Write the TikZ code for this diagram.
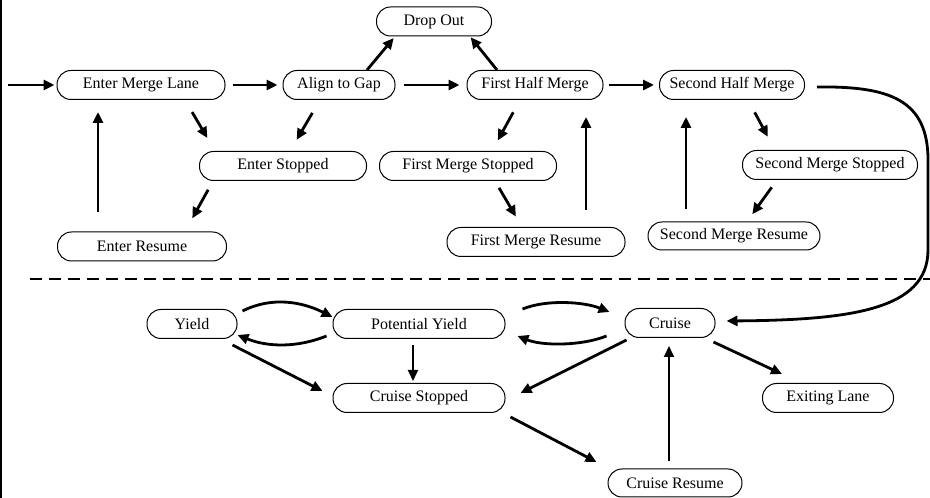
\documentclass[tikz,border=0pt]{standalone}
\usepackage{fontspec}
\setmainfont{Liberation Serif}
\usepackage{tikz}
\usetikzlibrary{positioning,calc,arrows.meta}

\begin{document}
\begin{tikzpicture}[x=1pt,y=1pt,
    state/.style={draw, line width=1pt, rounded corners=14pt, minimum height=29pt, inner sep=2pt, font=\fontsize{16}{18}\selectfont},
    flow/.style={line width=2.8pt, -{Triangle[length=11pt,width=10pt]}},
    thinflow/.style={flow, line width=1.8pt}]
    \useasboundingbox (0,0) rectangle (930,498);
    \draw[line width=2.4pt] (1,0) -- (1,498);
    \draw[line width=1.2pt, dash pattern=on 12pt off 7pt] (30,219) -- (930,219);

    \node[state, minimum width=168pt] (eml) at (141,413) {Enter Merge Lane};
    \node[state, minimum width=112pt] (atg) at (339,413) {Align to Gap};
    \node[state, minimum width=115pt] (drop) at (434,476.5) {Drop Out};
    \node[state, minimum width=136pt] (fhm) at (535,413) {First Half Merge};
    \node[state, minimum width=145pt] (shm) at (732,413) {Second Half Merge};
    \node[state, minimum width=167pt] (es) at (283,332) {Enter Stopped};
    \node[state, minimum width=177pt] (fms) at (468,332) {First Merge Stopped};
    \node[state, minimum width=175pt] (sms) at (830,333) {Second Merge Stopped};
    \node[state, minimum width=169pt] (er) at (142,251.5) {Enter Resume};
    \node[state, minimum width=178pt] (fmr) at (536,256) {First Merge Resume};
    \node[state, minimum width=172pt, minimum height=28pt] (smr) at (734,262) {Second Merge Resume};
    \node[state, minimum width=90pt] (yield) at (192,174) {Yield};
    \node[state, minimum width=172pt] (py) at (419,174) {Potential Yield};
    \node[state, minimum width=90pt] (cruise) at (670,175) {Cruise};
    \node[state, minimum width=172pt] (cs) at (419,100) {Cruise Stopped};
    \node[state, minimum width=131pt] (exit) at (828,100) {Exiting Lane};
    \node[state, minimum width=134pt, minimum height=28pt] (cr) at (675,15) {Cruise Resume};
    \coordinate (entry) at (8,413);

    \draw[flow, shorten >=2pt] (entry) -- (eml);
    \draw[flow, shorten <=7pt, shorten >=5pt] (eml) -- (atg);
    \draw[flow, shorten >=2pt] ([xshift=28pt]atg.north) -- ([xshift=-39pt]drop.south);
    \draw[flow, shorten <=8pt, shorten >=7pt] (atg) -- (fhm);
    \draw[flow, shorten >=1pt] ([xshift=-38pt]fhm.north) -- ([xshift=36pt]drop.south);
    \draw[flow, shorten <=5pt, shorten >=5pt] (fhm) -- (shm);
    \draw[flow, shorten <=14pt, shorten >=15pt] ([xshift=44pt]eml.south) -- ([xshift=-68pt]es.north);
    \draw[flow, shorten <=15pt, shorten >=13pt] ([xshift=-19pt]atg.south) -- ([xshift=7pt]es.north);
    \draw[flow, shorten <=10pt, shorten >=15pt] ([xshift=-70pt]es.south) -- ([xshift=43pt]er.north);
    \draw[flow, shorten <=19pt, shorten >=12pt] ([xshift=-44pt]er.north) -- ([xshift=-43pt]eml.south);
    \draw[flow, shorten <=14pt, shorten >=12pt] ([xshift=-15pt]fhm.south) -- ([xshift=24pt]fms.north);
    \draw[flow, shorten <=8pt, shorten >=12pt] ([xshift=27pt]fms.south) -- ([xshift=-14pt]fmr.north);
    \draw[flow, shorten <=17pt, shorten >=17pt] ([xshift=50pt]fmr.north) -- ([xshift=51pt]fhm.south);
    \draw[flow, shorten <=12pt, shorten >=17pt] ([xshift=-48pt]smr.north) -- ([xshift=-46pt]shm.south);
    \draw[flow, shorten <=14pt, shorten >=15pt] ([xshift=16pt]shm.south) -- ([xshift=-55pt]sms.north);
    \draw[flow, shorten <=9pt, shorten >=9pt] ([xshift=-53pt]sms.south) -- ([xshift=13pt]smr.north);
    \draw[flow] ([xshift=12pt,yshift=-2pt]shm.east) .. controls (890,412) and (928,398) .. (928,338)
        -- (928,248) .. controls (928,188) and (850,178) .. ([xshift=11pt,yshift=2pt]cruise.east);

    \draw[flow] ([xshift=5pt,yshift=-2pt]yield.north east) .. controls +(30,15) and +(-30,15) .. ([yshift=7pt]py.west);
    \draw[flow] ([xshift=-6pt,yshift=-12pt]py.west) .. controls +(-30,-12) and +(30,-12) .. ([yshift=-11pt]yield.east);
    \draw[flow] ([xshift=17pt,yshift=15pt]py.east) .. controls +(25,10) and +(-25,10) .. ([xshift=-15pt,yshift=11pt]cruise.west);
    \draw[flow] ([xshift=-18pt,yshift=-13pt]cruise.west) .. controls +(-25,-10) and +(25,-10) .. ([xshift=12pt,yshift=-12pt]py.east);
    \draw[thinflow, shorten <=6pt, shorten >=2pt] ([xshift=-6pt]py.south) -- ([xshift=-6pt]cs.north);
    \draw[flow] ([xshift=-5pt,yshift=-6pt]yield.south east) -- ([xshift=-10pt,yshift=7pt]cs.west);
    \draw[flow] ([xshift=2pt,yshift=-2pt]cruise.south west) -- ([xshift=15pt,yshift=5pt]cs.east);
    \draw[flow] ([xshift=5pt,yshift=-4pt]cs.south east) -- ([xshift=-11pt,yshift=21pt]cr.west);
    \draw[thinflow, shorten <=7pt, shorten >=8pt] ([xshift=-6pt]cr.north) -- ([xshift=-1pt]cruise.south);
    \draw[flow] ([xshift=-2pt,yshift=-4pt]cruise.south east) -- ([xshift=20pt,yshift=9pt]exit.north west);
\end{tikzpicture}
\end{document}
